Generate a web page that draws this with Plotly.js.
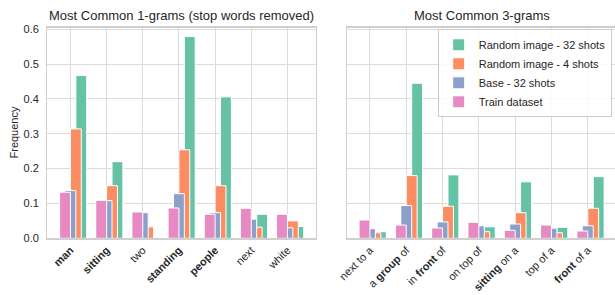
<!DOCTYPE html>
<html>
<head>
<meta charset="utf-8">
<script src="https://cdn.plot.ly/plotly-3.0.1.min.js"></script>
<style>html,body{margin:0;padding:0;background:#fff;}#chart{width:615px;height:295px;}</style>
</head>
<body>
<div id="chart"></div>
<script>
// ---- Data ----
const seriesNames = ['Random image - 32 shots', 'Random image - 4 shots', 'Base - 32 shots', 'Train dataset'];
const seriesColors = ['#66c2a5', '#fc8d62', '#8da0cb', '#e78ac3'];

const unigramCats = ['man', 'sitting', 'two', 'standing', 'people', 'next', 'white'];
const unigramTickText = ['<b>man</b>', '<b>sitting</b>', 'two', '<b>standing</b>', '<b>people</b>', 'next', 'white'];
const uniRand32 = [0.467, 0.220, 0.003, 0.579, 0.406, 0.069, 0.034];
const uniRand4  = [0.314, 0.151, 0.033, 0.254, 0.151, 0.032, 0.050];
const uniBase   = [0.137, 0.108, 0.0735, 0.128, 0.0735, 0.055, 0.030];
const uniTrain  = [0.132, 0.109, 0.0755, 0.087, 0.069, 0.086, 0.069];

const trigramCats = ['next to a', 'a group of', 'in front of', 'on top of', 'sitting on a', 'top of a', 'front of a'];
const trigramTickText = ['next to a', 'a <b>group</b> of', 'in <b>front</b> of', 'on top of', '<b>sitting</b> on a', 'top of a', '<b>front</b> of a'];
const triRand32 = [0.019, 0.445, 0.182, 0.033, 0.162, 0.0316, 0.177];
const triRand4  = [0.016, 0.180, 0.092, 0.019, 0.0735, 0.016, 0.086];
const triBase   = [0.0276, 0.094, 0.047, 0.036, 0.041, 0.029, 0.036];
const triTrain  = [0.0525, 0.038, 0.0296, 0.046, 0.023, 0.038, 0.021];

// ---- Build traces (drawn back-to-front: green, orange, blue, pink) ----
const uniSeries = [uniRand32, uniRand4, uniBase, uniTrain];
const triSeries = [triRand32, triRand4, triBase, triTrain];
const offsets = [0.15, 0.0, -0.15, -0.30];
const barWidth = 0.30;

const traces = [];
for (let i = 0; i < 4; i++) {
  traces.push({
    type: 'bar', x: unigramCats, y: uniSeries[i], name: seriesNames[i],
    xaxis: 'x', yaxis: 'y', width: barWidth, offset: offsets[i],
    marker: {color: seriesColors[i], line: {color: '#ffffff', width: 1}},
    showlegend: true, hoverinfo: 'skip'
  });
}
for (let i = 0; i < 4; i++) {
  traces.push({
    type: 'bar', x: trigramCats, y: triSeries[i], name: seriesNames[i],
    xaxis: 'x2', yaxis: 'y2', width: barWidth, offset: offsets[i],
    marker: {color: seriesColors[i], line: {color: '#ffffff', width: 1}},
    showlegend: false, hoverinfo: 'skip'
  });
}

const W = 615, H = 295;
const fontFam = 'Liberation Sans, Arial, sans-serif';
const txtColor = '#262626';
const gridC = '#dcdcdc';
const yTop = 27.5, yBot = 238.3;
const yDom = [(H - yBot) / H, (H - yTop) / H];

const xCommon = {
  type: 'category', showgrid: true, gridcolor: gridC, gridwidth: 1,
  showline: true, linecolor: '#cfcfcf', linewidth: 1.2, mirror: true,
  ticks: '', tickangle: -45, tickmode: 'array',
  tickfont: {family: fontFam, size: 11, color: txtColor},
  zeroline: false, fixedrange: true
};

const layout = {
  width: W, height: H,
  margin: {l: 0, r: 0, t: 0, b: 0},
  paper_bgcolor: '#ffffff', plot_bgcolor: '#ffffff',
  barmode: 'overlay', bargap: 0,
  font: {family: fontFam, color: txtColor},
  showlegend: true,
  legend: {
    x: 611.7 / W, xanchor: 'right', y: (H - 29.3) / H, yanchor: 'top',
    bgcolor: 'rgba(255,255,255,0.85)', bordercolor: '#cccccc', borderwidth: 1,
    font: {family: fontFam, size: 11, color: txtColor}, traceorder: 'normal',
    tracegroupgap: 0
  },
  xaxis: Object.assign({}, xCommon, {
    domain: [47.3 / W, 316 / W], range: [-0.64, 6.79], anchor: 'y',
    tickvals: unigramCats, ticktext: unigramTickText
  }),
  xaxis2: Object.assign({}, xCommon, {
    domain: [346.7 / W, 1.0], range: [-0.64, 6.75], anchor: 'y2',
    tickvals: trigramCats, ticktext: trigramTickText
  }),
  yaxis: {
    domain: yDom, range: [0, 0.605], anchor: 'x',
    tickvals: [0, 0.1, 0.2, 0.3, 0.4, 0.5, 0.6],
    ticktext: ['0.0', '0.1', '0.2', '0.3', '0.4', '0.5', '0.6'],
    showgrid: true, gridcolor: gridC, gridwidth: 1,
    showline: true, linecolor: '#cfcfcf', linewidth: 1.2, mirror: true,
    ticks: '', ticklabelstandoff: 5, zeroline: false,
    tickfont: {family: fontFam, size: 11, color: txtColor}, fixedrange: true
  },
  yaxis2: {
    domain: yDom, range: [0, 0.605], anchor: 'x2',
    tickvals: [0, 0.1, 0.2, 0.3, 0.4, 0.5, 0.6],
    showticklabels: false,
    showgrid: true, gridcolor: gridC, gridwidth: 1,
    showline: true, linecolor: '#cfcfcf', linewidth: 1.2, mirror: false,
    ticks: '', zeroline: false, fixedrange: true
  },
  annotations: [
    {text: 'Most Common 1-grams (stop words removed)', xref: 'paper', yref: 'paper',
     x: (47.3 + 316) / 2 / W, y: (H - 15.5) / H, xanchor: 'center', yanchor: 'middle',
     showarrow: false, font: {family: fontFam, size: 13, color: txtColor}},
    {text: 'Most Common 3-grams', xref: 'paper', yref: 'paper',
     x: (346.7 + 616.5) / 2 / W, y: (H - 15.5) / H, xanchor: 'center', yanchor: 'middle',
     showarrow: false, font: {family: fontFam, size: 13, color: txtColor}},
    {text: 'Frequency', xref: 'paper', yref: 'paper',
     x: 13.5 / W, y: (H - 133) / H, xanchor: 'center', yanchor: 'middle', textangle: -90,
     showarrow: false, font: {family: fontFam, size: 11, color: txtColor}}
  ]
};

Plotly.newPlot('chart', traces, layout, {displayModeBar: false, staticPlot: true});
</script>
</body>
</html>
